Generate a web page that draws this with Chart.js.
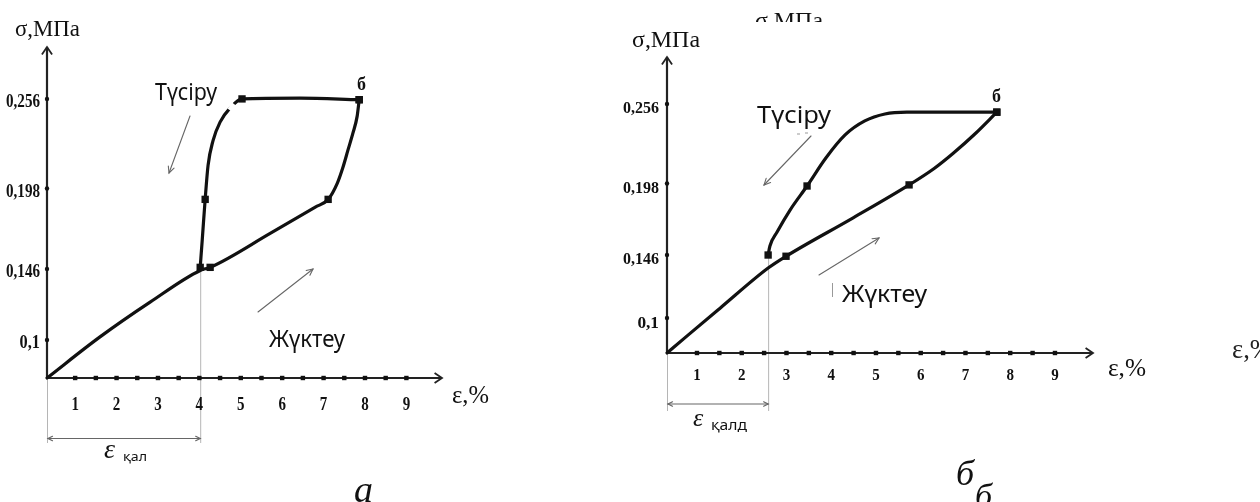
<!DOCTYPE html>
<html>
<head>
<meta charset="utf-8">
<script src="https://cdn.jsdelivr.net/npm/chart.js@4/dist/chart.umd.min.js"></script>
<style>
html,body{margin:0;padding:0;background:#fff;width:1260px;height:502px;overflow:hidden}
canvas{position:absolute;left:0;top:0}
</style>
</head>
<body>
<canvas id="chartA" width="1260" height="502"></canvas>
<canvas id="chartB" width="1260" height="502"></canvas>
<script>
// ---------- DATA ----------
const strainTicks = [1, 2, 3, 4, 5, 6, 7, 8, 9];
const strainDots = [1, 1.5, 2, 2.5, 3, 3.5, 4, 4.5, 5, 5.5, 6, 6.5, 7, 7.5, 8, 8.5, 9];
const stressTicks = [0.1, 0.146, 0.198, 0.256];
const stressTickLabels = ['0,1', '0,146', '0,198', '0,256'];

// Panel а : loading (Жүктеу) and unloading (Түсіру)
const aLoadStrain   = [0.32, 1.60, 2.81, 4.02, 4.26, 5.71, 6.80, 7.11, 7.33, 7.47, 7.59, 7.71, 7.81, 7.86];
const aLoadStress   = [0.0754, 0.102, 0.1245, 0.145, 0.147, 0.169, 0.186, 0.191, 0.2014, 0.212, 0.223, 0.234, 0.2447, 0.2555];
const aLoadMarked   = [0, 0, 0, 0, 1, 0, 0, 1, 0, 0, 0, 0, 0, 1];
const aUnloadStrain = [7.86, 6.43, 5.03, 4.74, 4.50, 4.33, 4.21, 4.14, 4.07, 4.02];
const aUnloadStress = [0.2555, 0.2565, 0.256, 0.250, 0.241, 0.229, 0.213, 0.191, 0.165, 0.147];
const aUnloadMarked = [1, 0, 1, 0, 0, 0, 0, 1, 0, 1];
const aResidualStrain = 4.02;

// Panel б
const bLoadStrain   = [0.33, 0.78, 1.51, 2.59, 2.99, 4.49, 5.74, 6.30, 6.72, 7.21, 7.70];
const bLoadStress   = [0.0745, 0.087, 0.107, 0.1364, 0.145, 0.173, 0.197, 0.209, 0.2199, 0.2341, 0.250];
const bLoadMarked   = [0, 0, 0, 0, 1, 0, 1, 0, 0, 0, 1];
const bUnloadStrain = [7.70, 5.69, 5.20, 4.75, 4.31, 3.88, 3.46, 3.08, 2.79, 2.63, 2.59];
const bUnloadStress = [0.250, 0.250, 0.2487, 0.2436, 0.2334, 0.2166, 0.1962, 0.1787, 0.1627, 0.1525, 0.1459];
const bUnloadMarked = [1, 0, 0, 0, 0, 0, 1, 0, 0, 0, 1];
const bResidualStrain = 2.59;

// ---------- HELPERS ----------
const SERIF = '"Liberation Serif","DejaVu Serif",serif';
const SANS = '"Noto Sans","Open Sans","DejaVu Sans",sans-serif';

function drawText(ctx, s, x, baseline, font, size, width, align, color) {
  ctx.save();
  ctx.font = font.replace('{s}', size + 'px');
  ctx.fillStyle = color || '#111';
  ctx.textBaseline = 'alphabetic';
  const natural = ctx.measureText(s).width;
  const sx = width ? width / natural : 1;
  ctx.translate(x, baseline);
  ctx.scale(sx, 1);
  ctx.textAlign = align || 'left';
  ctx.fillText(s, 0, 0);
  ctx.restore();
}

function arrowHead(ctx, x1, y1, x2, y2, len, ang) {
  const a = Math.atan2(y2 - y1, x2 - x1);
  ctx.beginPath();
  ctx.moveTo(x2 - len * Math.cos(a - ang), y2 - len * Math.sin(a - ang));
  ctx.lineTo(x2, y2);
  ctx.lineTo(x2 - len * Math.cos(a + ang), y2 - len * Math.sin(a + ang));
  ctx.stroke();
}

function arrowLine(ctx, x1, y1, x2, y2, color, w, head, both) {
  ctx.save();
  ctx.strokeStyle = color; ctx.lineWidth = w; ctx.lineCap = 'round';
  ctx.beginPath(); ctx.moveTo(x1, y1); ctx.lineTo(x2, y2); ctx.stroke();
  arrowHead(ctx, x1, y1, x2, y2, head, 0.45);
  if (both) arrowHead(ctx, x2, y2, x1, y1, head, 0.45);
  ctx.restore();
}

const decoPlugin = {
  id: 'deco',
  beforeDatasetsDraw(chart) {
    const d = chart.options.plugins.deco;
    const ctx = chart.ctx, xs = chart.scales.x, ys = chart.scales.y;
    const x0 = xs.getPixelForValue(xs.min), y0 = ys.getPixelForValue(ys.min);
    const xe = xs.getPixelForValue(xs.max);
    const yt = ys.getPixelForValue(ys.max);
    ctx.save();
    // residual strain guide lines
    const xr = xs.getPixelForValue(d.residual);
    ctx.strokeStyle = '#b5b5b5'; ctx.lineWidth = 1;
    ctx.beginPath();
    ctx.moveTo(xr + 0.5, ys.getPixelForValue(d.residualTop)); ctx.lineTo(xr + 0.5, d.dimBottom);
    ctx.moveTo(x0 + 0.5, y0); ctx.lineTo(x0 + 0.5, d.dimBottom);
    ctx.stroke();
    arrowLine(ctx, x0 + 1, d.dimY, xr, d.dimY, '#666', 1.2, 5, true);
    // axes
    ctx.strokeStyle = '#222'; ctx.lineWidth = 2.2;
    ctx.beginPath(); ctx.moveTo(x0, y0); ctx.lineTo(xe, y0); ctx.stroke();
    ctx.beginPath(); ctx.moveTo(x0, y0); ctx.lineTo(x0, yt); ctx.stroke();
    ctx.lineWidth = 1.8;
    arrowHead(ctx, x0, y0, xe, y0, 9, 0.6);
    arrowHead(ctx, x0, y0, x0, yt, 9, 0.6);
    // x dots and labels
    ctx.fillStyle = '#111';
    strainDots.forEach(v => {
      const px = xs.getPixelForValue(v);
      ctx.fillRect(px - 2.2, y0 - 2.2, 4.4, 4.4);
    });
    strainTicks.forEach(v => {
      const px = xs.getPixelForValue(v);
      drawText(ctx, String(v), px, y0 + d.xLabelDy, 'bold {s} ' + SERIF, d.tickSize, d.tickW1, 'center');
    });
    // y dots and labels
    stressTicks.forEach((v, i) => {
      const py = ys.getPixelForValue(v);
      ctx.beginPath(); ctx.arc(x0, py, 2.2, 0, Math.PI * 2); ctx.fill();
      const lab = stressTickLabels[i];
      drawText(ctx, lab, x0 - d.yLabelDx, py + d.yLabelDy, 'bold {s} ' + SERIF, d.tickSize,
        d.tickW5 * lab.length / 5, 'right');
    });
    ctx.restore();
  },
  afterDraw(chart) {
    const d = chart.options.plugins.deco;
    const ctx = chart.ctx;
    d.arrows.forEach(a => arrowLine(ctx, a[0], a[1], a[2], a[3], '#666', 1.1, 7, false));
    (d.bars || []).forEach(b => {
      ctx.save(); ctx.strokeStyle = '#999'; ctx.lineWidth = 1;
      ctx.beginPath(); ctx.moveTo(b[0], b[1]); ctx.lineTo(b[2], b[3]); ctx.stroke(); ctx.restore();
    });
    (d.gaps || []).forEach(g => {
      ctx.save(); ctx.strokeStyle = '#fff'; ctx.lineWidth = 5;
      ctx.beginPath(); ctx.moveTo(g[0], g[1]); ctx.lineTo(g[2], g[3]); ctx.stroke(); ctx.restore();
    });
    d.texts.forEach(t => {
      if (t.clip) {
        ctx.save(); ctx.beginPath(); ctx.rect(t.clip[0], t.clip[1], t.clip[2], t.clip[3]); ctx.clip();
        drawText(ctx, t.s, t.x, t.y, t.f, t.size, t.w, 'left', t.c);
        ctx.restore();
      } else {
        drawText(ctx, t.s, t.x, t.y, t.f, t.size, t.w, 'left', t.c);
      }
    });
  }
};

function pts(xs, ys) { return xs.map((x, i) => ({ x: x, y: ys[i] })); }

function makeChart(id, p) {
  const line = (xs, ys, marked) => ({
    data: pts(xs, ys),
    borderColor: '#111', borderWidth: 3.2, cubicInterpolationMode: 'monotone', fill: false,
    pointStyle: 'rect', pointRadius: marked.map(m => m ? 5.2 : 0),
    pointBackgroundColor: '#111', pointBorderWidth: 0, clip: false,
    borderCapStyle: 'round', borderJoinStyle: 'round'
  });
  return new Chart(document.getElementById(id), {
    type: 'line',
    data: { datasets: [line(p.loadX, p.loadY, p.loadM), line(p.unX, p.unY, p.unM)] },
    options: {
      responsive: false, animation: false, events: [],
      layout: { padding: p.padding },
      plugins: { legend: { display: false }, tooltip: { enabled: false }, deco: p.deco },
      scales: {
        x: { type: 'linear', min: p.xMin, max: p.xMax, display: false },
        y: { type: 'linear', min: p.yMin, max: p.yMax, display: false }
      }
    },
    plugins: [decoPlugin]
  });
}

const ITS = 'italic {s} ' + SERIF, RS = '{s} ' + SERIF, BS = 'bold {s} ' + SERIF, NS = '{s} ' + SANS;

makeChart('chartA', {
  loadX: aLoadStrain, loadY: aLoadStress, loadM: aLoadMarked,
  unX: aUnloadStrain, unY: aUnloadStress, unM: aUnloadMarked,
  xMin: 0.32, xMax: 9.86, yMin: 0.0754, yMax: 0.2896,
  padding: { left: 47, right: 818, top: 47, bottom: 124 },
  deco: {
    residual: aResidualStrain, residualTop: 0.147, dimY: 438.5, dimBottom: 443,
    xLabelDy: 32, yLabelDx: 7, yLabelDy: 8.5, tickSize: 18, tickW5: 34, tickW1: 7.5,
    arrows: [[190, 116, 169, 173], [258, 312, 313, 269]],
    gaps: [[229.5, 110, 234, 104]],
    texts: [
      { s: 'σ,МПа', x: 15, y: 36, f: RS, size: 23, w: 65 },
      { s: 'ε,%', x: 452, y: 403, f: RS, size: 26, w: 37 },
      { s: 'б', x: 357, y: 90, f: BS, size: 18 },
      { s: 'Түсіру', x: 155, y: 100, f: NS, size: 24, w: 62 },
      { s: 'Жүктеу', x: 269, y: 347, f: NS, size: 24, w: 76 },
      { s: 'ε', x: 104, y: 458, f: ITS, size: 28 },
      { s: 'қал', x: 123, y: 461, f: NS, size: 13, w: 24 },
      { s: 'а', x: 354, y: 502, f: ITS, size: 38 }
    ]
  }
});

makeChart('chartB', {
  loadX: bLoadStrain, loadY: bLoadStress, loadM: bLoadMarked,
  unX: bUnloadStrain, unY: bUnloadStress, unM: bUnloadMarked,
  xMin: 0.33, xMax: 9.85, yMin: 0.0745, yMax: 0.2902,
  padding: { left: 667, right: 167, top: 57, bottom: 149 },
  deco: {
    residual: bResidualStrain, residualTop: 0.146, dimY: 404, dimBottom: 411,
    xLabelDy: 27, yLabelDx: 8, yLabelDy: 9.5, tickSize: 17, tickW5: 36, tickW1: 7.5,
    arrows: [[811, 136, 764, 185], [819, 275, 879, 238]],
    bars: [[832.5, 283, 832.5, 297], [797, 134, 800, 134], [805, 133, 808, 133]],
    texts: [
      { s: 'σ,МПа', x: 632, y: 47, f: RS, size: 23, w: 68 },
      { s: 'σ,МПа', x: 755, y: 28, f: RS, size: 23, w: 68, clip: [740, 0, 100, 22] },
      { s: 'ε,%', x: 1108, y: 376, f: RS, size: 26, w: 38 },
      { s: 'ε,%', x: 1232, y: 358, f: RS, size: 27, w: 40, c: '#222' },
      { s: 'б', x: 992, y: 102, f: BS, size: 18 },
      { s: 'Түсіру', x: 757, y: 123, f: NS, size: 23, w: 74 },
      { s: 'Жүктеу', x: 842, y: 302, f: NS, size: 24, w: 85 },
      { s: 'ε', x: 693, y: 426, f: ITS, size: 26 },
      { s: 'қалд', x: 711, y: 430, f: NS, size: 15, w: 36 },
      { s: 'б', x: 956, y: 485, f: ITS, size: 36 },
      { s: 'б', x: 975, y: 507, f: ITS, size: 34 }
    ]
  }
});
</script>
</body>
</html>
